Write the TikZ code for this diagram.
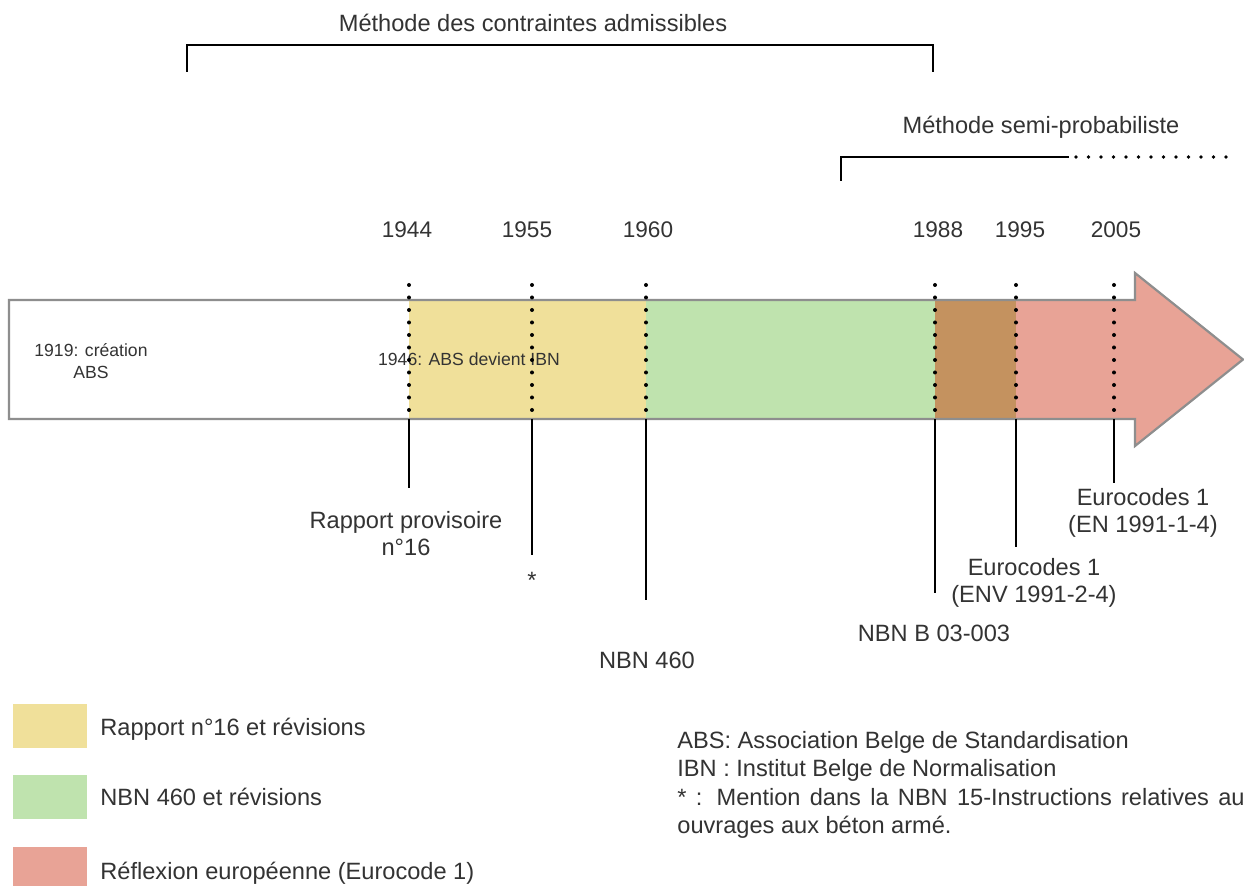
\documentclass[tikz,border=0pt]{standalone}
\usepackage{fontspec}
\setmainfont{Liberation Sans}
\setlength{\parindent}{0pt}

\definecolor{rapport}{HTML}{F0E09A}
\definecolor{nbn}{HTML}{BFE3AE}
\definecolor{euro}{HTML}{E8A396}
\definecolor{overlap}{HTML}{C4925F}
\definecolor{ink}{HTML}{333333}
\definecolor{rim}{HTML}{8E8E8E}

\begin{document}
\begin{tikzpicture}[x=0.5pt,y=-0.5pt,
  lbl/.style={font=\fontsize{11.8}{13.5}\selectfont, text=ink, inner sep=0pt},
  yr/.style={font=\fontsize{11.3}{13}\selectfont, text=ink, inner sep=0pt, anchor=base},
  small/.style={font=\fontsize{8.8}{11}\selectfont, text=ink, inner sep=0pt},
  dotline/.style={line width=2pt, line cap=round, dash pattern=on 0pt off 6.25pt},
  tick/.style={line width=1.3pt},
  bracket/.style={line width=1.2pt, line join=miter},
  swatch/.style={inner sep=0pt, minimum width=37pt, minimum height=22pt, anchor=north west}
]
\useasboundingbox (0,0) rectangle (1244,886);
\fill[white] (0,0) rectangle (1244,886);

% --- timeline arrow with coloured periods ---
\begin{scope}
  \clip (9,300) -- (1135,300) -- (1135,273) -- (1243,359.5) -- (1135,446) -- (1135,419) -- (9,419) -- cycle;
  \fill[rapport] (409,260) rectangle (646,460);
  \fill[nbn]     (646,260) rectangle (935,460);
  \fill[overlap] (935,260) rectangle (1016,460);
  \fill[euro]    (1016,260) rectangle (1250,460);
\end{scope}
\draw[rim, line width=1.1pt, line join=miter]
  (9,300) -- (1135,300) -- (1135,273) -- (1243,359.5) -- (1135,446) -- (1135,419) -- (9,419) -- cycle;

% --- notes inside the arrow ---
\node[small, align=center, anchor=north] (abs) at (91,343) {1919: création\\ABS};
\node[small, anchor=base] (ibn) at (469,366) {1946: ABS devient IBN};

% --- dated markers: dotted across the arrow, solid below it ---
\foreach \n/\x/\e in {a/409/488, b/532/555, c/646/600, d/935/593, e/1016/547, f/1114/483} {
  \coordinate (top\n) at (\x,285);
  \coordinate (mid\n) at (\x,410);
  \coordinate (rim\n) at (\x,419);
  \coordinate (end\n) at (\x,\e);
  \draw[dotline] (top\n) -- (mid\n);
  \draw[tick] (rim\n) -- (end\n);
}

% --- years ---
\node[yr] (y1944) at (407,238) {1944};
\node[yr] (y1955) at (527,238) {1955};
\node[yr] (y1960) at (648,238) {1960};
\node[yr] (y1988) at (938,238) {1988};
\node[yr] (y1995) at (1020,238) {1995};
\node[yr] (y2005) at (1116,238) {2005};

% --- design method brackets ---
\coordinate (ca1) at (187,72);
\coordinate (ca2) at (187,45);
\coordinate (ca3) at (933,45);
\coordinate (ca4) at (933,72);
\draw[bracket] (ca1) -- (ca2) -- (ca3) -- (ca4);
\node[lbl, anchor=base] (cadm) at (533,31.5) {Méthode des contraintes admissibles};

\coordinate (sp1) at (841,181);
\coordinate (sp2) at (841,157);
\coordinate (sp3) at (1069,157);
\coordinate (sp4) at (1076,157);
\coordinate (sp5) at (1226,157);
\draw[bracket] (sp1) -- (sp2) -- (sp3);
\draw[dotline, line width=1.8pt] (sp4) -- (sp5);
\node[lbl, anchor=base] (sprob) at (1041,133.5) {Méthode semi-probabiliste};

% --- documents below the timeline ---
\node[lbl, align=center, anchor=north] (rp16) at (406,511.5) {Rapport provisoire\\n°16};
\node[lbl, anchor=base] (star) at (532,589) {*};
\node[lbl, anchor=base] (nbn460) at (647,668.5) {NBN 460};
\node[lbl, anchor=base] (nbnb) at (934,641.5) {NBN B 03-003};
\node[lbl, align=center, anchor=north] (envlbl) at (1034,558) {Eurocodes 1\\(ENV 1991-2-4)};
\node[lbl, align=center, anchor=north] (enlbl) at (1143,488) {Eurocodes 1\\(EN 1991-1-4)};

% --- legend ---
\node[swatch, fill=rapport] (k1) at (13,704) {};
\node[swatch, fill=nbn]     (k2) at (13,775) {};
\node[swatch, fill=euro]    (k3) at (13,847) {};
\node[lbl, anchor=base west] (k1t) at (100,735.5) {Rapport n°16 et révisions};
\node[lbl, anchor=base west] (k2t) at (100,805.5) {NBN 460 et révisions};
\node[lbl, anchor=base west] (k3t) at (100,880) {Réflexion européenne (Eurocode 1)};

% --- abbreviations ---
\node[lbl, anchor=north west, text width=289.5pt, align=justify,
      font=\fontsize{11.8}{14.25}\selectfont] (notes) at (677,731)
  {\hyphenpenalty=10000\exhyphenpenalty=10000
   ABS: Association Belge de Standardisation\par
   IBN : Institut Belge de Normalisation\par
   * : Mention dans la NBN 15-Instructions relatives aux ouvrages aux béton armé.};
\end{tikzpicture}
\end{document}
